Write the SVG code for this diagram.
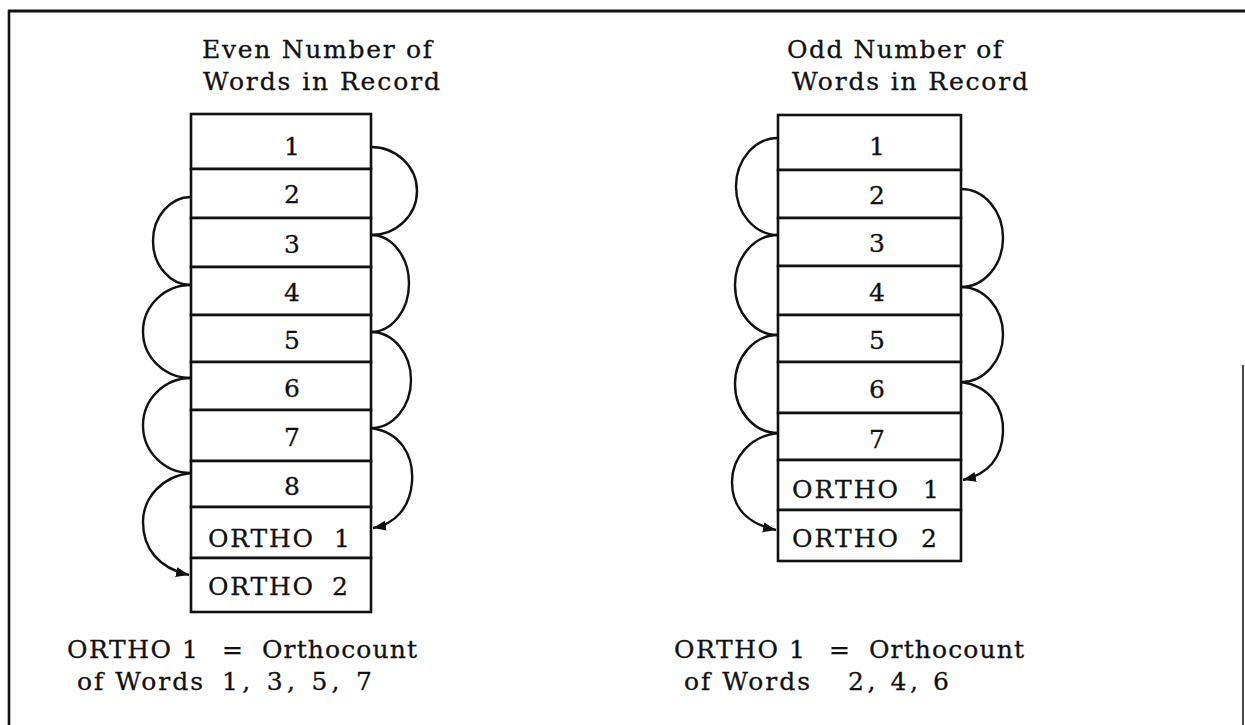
<svg xmlns="http://www.w3.org/2000/svg" width="1245" height="725" viewBox="0 0 1245 725">
  <style>
    .frame { stroke: #111; fill: none; }
    .cell { fill: #fff; stroke: #111; stroke-width: 2.6; }
    .lbl { font-family: "DejaVu Serif", "Liberation Serif", serif; font-size: 25px; fill: #111; stroke: #111; stroke-width: 0.3; }
    .num { text-anchor: middle; }
    .link { fill: none; stroke: #111; stroke-width: 2.4; }
  </style>
  <defs>
    <marker id="arrow" markerUnits="userSpaceOnUse" markerWidth="14" markerHeight="12" refX="13" refY="6" orient="auto">
      <path d="M0,1 L13,6 L0,11 Z" fill="#111"/>
    </marker>
  </defs>

  <rect width="1245" height="725" fill="#fff"/>

  <!-- page frame -->
  <g id="frame">
    <line class="frame" x1="8" y1="11" x2="1245" y2="11" stroke-width="3"/>
    <line class="frame" x1="9" y1="10" x2="9" y2="725" stroke-width="2.6"/>
    <line class="frame" x1="1243" y1="365" x2="1243" y2="725" stroke-width="1.5" stroke="#555"/>
  </g>

  <!-- headings -->
  <g id="title-even">
    <text class="lbl" x="202" y="58" textLength="230" lengthAdjust="spacing">Even Number of</text>
    <text class="lbl" x="203" y="90" textLength="237" lengthAdjust="spacing">Words in Record</text>
  </g>
  <g id="title-odd">
    <text class="lbl" x="787" y="58" textLength="215" lengthAdjust="spacing">Odd Number of</text>
    <text class="lbl" x="792" y="90" textLength="236" lengthAdjust="spacing">Words in Record</text>
  </g>

  <!-- even record: 8 words + 2 orthocount words -->
  <g id="even-w1"><rect class="cell" x="191" y="114" width="180" height="55"/><text class="lbl num" x="292" y="155">1</text></g>
  <g id="even-w2"><rect class="cell" x="191" y="169" width="180" height="49"/><text class="lbl num" x="292" y="203">2</text></g>
  <g id="even-w3"><rect class="cell" x="191" y="218" width="180" height="49"/><text class="lbl num" x="292" y="253">3</text></g>
  <g id="even-w4"><rect class="cell" x="191" y="267" width="180" height="48"/><text class="lbl num" x="292" y="301">4</text></g>
  <g id="even-w5"><rect class="cell" x="191" y="315" width="180" height="47"/><text class="lbl num" x="292" y="349">5</text></g>
  <g id="even-w6"><rect class="cell" x="191" y="362" width="180" height="48"/><text class="lbl num" x="292" y="397">6</text></g>
  <g id="even-w7"><rect class="cell" x="191" y="410" width="180" height="51"/><text class="lbl num" x="292" y="446">7</text></g>
  <g id="even-w8"><rect class="cell" x="191" y="461" width="180" height="46"/><text class="lbl num" x="292" y="495">8</text></g>
  <g id="even-ortho1"><rect class="cell" x="191" y="507" width="180" height="51"/><text class="lbl" y="547"><tspan x="208" textLength="105" lengthAdjust="spacing">ORTHO</tspan><tspan x="334">1</tspan></text></g>
  <g id="even-ortho2"><rect class="cell" x="191" y="558" width="180" height="54"/><text class="lbl" y="595"><tspan x="208" textLength="105" lengthAdjust="spacing">ORTHO</tspan><tspan x="332">2</tspan></text></g>

  <!-- odd record: 7 words + 2 orthocount words -->
  <g id="odd-w1"><rect class="cell" x="778" y="115" width="183" height="55"/><text class="lbl num" x="877" y="155">1</text></g>
  <g id="odd-w2"><rect class="cell" x="778" y="170" width="183" height="48"/><text class="lbl num" x="877" y="204">2</text></g>
  <g id="odd-w3"><rect class="cell" x="778" y="218" width="183" height="48"/><text class="lbl num" x="877" y="252">3</text></g>
  <g id="odd-w4"><rect class="cell" x="778" y="266" width="183" height="49"/><text class="lbl num" x="877" y="301">4</text></g>
  <g id="odd-w5"><rect class="cell" x="778" y="315" width="183" height="47"/><text class="lbl num" x="877" y="349">5</text></g>
  <g id="odd-w6"><rect class="cell" x="778" y="362" width="183" height="51"/><text class="lbl num" x="877" y="398">6</text></g>
  <g id="odd-w7"><rect class="cell" x="778" y="413" width="183" height="47"/><text class="lbl num" x="877" y="448">7</text></g>
  <g id="odd-ortho1"><rect class="cell" x="778" y="460" width="183" height="50"/><text class="lbl" y="498"><tspan x="792" textLength="106" lengthAdjust="spacing">ORTHO</tspan><tspan x="923">1</tspan></text></g>
  <g id="odd-ortho2"><rect class="cell" x="778" y="510" width="183" height="51"/><text class="lbl" y="547"><tspan x="792" textLength="106" lengthAdjust="spacing">ORTHO</tspan><tspan x="921">2</tspan></text></g>

  <!-- chaining arcs between alternate words -->
  <g id="connectors">
    <!-- even record, right side: 1-3-5-7 -> ORTHO 1 -->
    <path class="link" d="M371,147 A46,44 0 0 1 371,235"/>
    <path class="link" d="M371,235 A38,48.5 0 0 1 371,332"/>
    <path class="link" d="M371,332 A40,48 0 0 1 371,428"/>
    <path class="link" d="M371,428 C400,432 414,455 412,482 C410,508 395,524 373,528" marker-end="url(#arrow)"/>
    <!-- even record, left side: 2-4-6-8 -> ORTHO 2 -->
    <path class="link" d="M191,197 A38,44 0 0 0 191,285"/>
    <path class="link" d="M191,285 A48,46.5 0 0 0 191,378"/>
    <path class="link" d="M191,378 A48,47.5 0 0 0 191,473"/>
    <path class="link" d="M191,473 C162,476 143,498 143,522 C143,548 158,568 189,575" marker-end="url(#arrow)"/>

    <!-- odd record, left side: 1-3-5-7 -> ORTHO 2 -->
    <path class="link" d="M778,138 A42,48.5 0 0 0 778,235"/>
    <path class="link" d="M778,235 A43,50 0 0 0 778,335"/>
    <path class="link" d="M778,335 A43,49 0 0 0 778,433"/>
    <path class="link" d="M778,433 C750,436 732,458 732,482 C732,508 748,524 776,530" marker-end="url(#arrow)"/>
    <!-- odd record, right side: 2-4-6 -> ORTHO 1 -->
    <path class="link" d="M961,189 A42,49 0 0 1 961,287"/>
    <path class="link" d="M961,287 A42,47.5 0 0 1 961,382"/>
    <path class="link" d="M961,382 C990,386 1004,408 1003,432 C1002,458 988,474 963,480" marker-end="url(#arrow)"/>
  </g>

  <!-- notes -->
  <g id="note-even">
    <text class="lbl" y="658"><tspan x="67" textLength="131" lengthAdjust="spacing">ORTHO 1</tspan><tspan x="222">=</tspan><tspan x="262" textLength="155" lengthAdjust="spacing">Orthocount</tspan></text>
    <text class="lbl" y="690"><tspan x="77" textLength="126" lengthAdjust="spacing">of Words</tspan><tspan x="222" textLength="150" lengthAdjust="spacing">1, 3, 5, 7</tspan></text>
  </g>
  <g id="note-odd">
    <text class="lbl" y="658"><tspan x="674" textLength="131" lengthAdjust="spacing">ORTHO 1</tspan><tspan x="829">=</tspan><tspan x="869" textLength="155" lengthAdjust="spacing">Orthocount</tspan></text>
    <text class="lbl" y="690"><tspan x="684" textLength="126" lengthAdjust="spacing">of Words</tspan><tspan x="848" textLength="101" lengthAdjust="spacing">2, 4, 6</tspan></text>
  </g>
</svg>
